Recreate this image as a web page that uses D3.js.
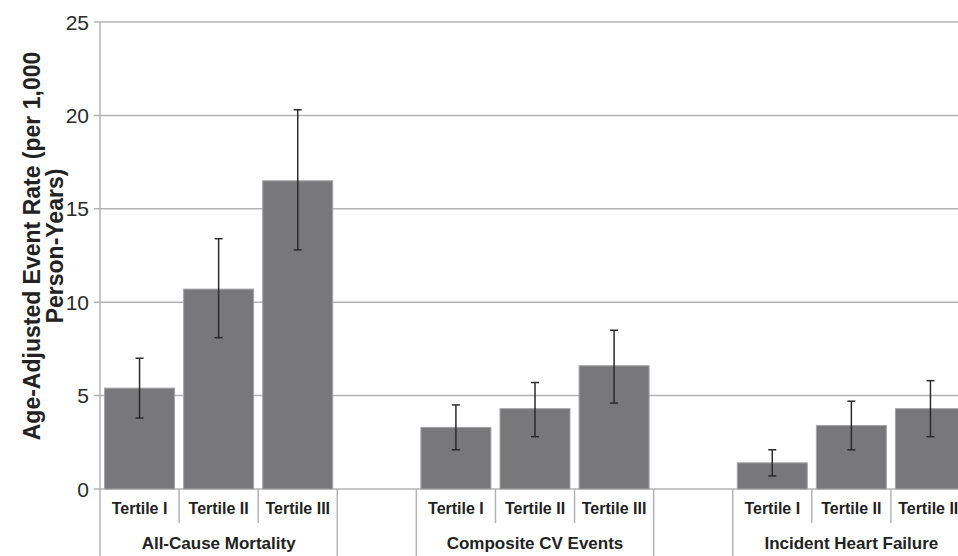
<!DOCTYPE html>
<html>
<head>
<meta charset="utf-8">
<script src="https://cdn.jsdelivr.net/npm/d3@7"></script>
<style>
  body { margin: 0; background: #fff; }
  svg { display: block; font-family: "Liberation Sans", Arial, sans-serif; }
</style>
</head>
<body>
<div id="chart"></div>
<script>
// data
const groups = ['All-Cause Mortality', 'Composite CV Events', 'Incident Heart Failure'];
const tertiles = ['Tertile I', 'Tertile II', 'Tertile III'];
const rates = [
    [5.4, 10.7, 16.5],
    [3.3, 4.3, 6.6],
    [1.4, 3.4, 4.3]
];
const lower = [
    [3.8, 8.1, 12.8],
    [2.1, 2.8, 4.6],
    [0.7, 2.1, 2.8]
];
const upper = [
    [7.0, 13.4, 20.3],
    [4.5, 5.7, 8.5],
    [2.1, 4.7, 5.8]
];
const yTicks = [0, 5, 10, 15, 20, 25];

drawBars();

function drawBars() {

    const width = 958;
    const height = 556;
    const margin = {top: 22, left: 100, bottom: 67};
    const plotRight = 970; // the plot runs past the right edge of the picture

    const svg = d3.select('#chart')
        .append('svg')
            .attr('width', width)
            .attr('height', height);

    // one slot per bar, with an empty slot between groups
    let slots = [];
    groups.forEach((g, gi) => {
        tertiles.forEach((t, ti) => {
            slots.push({key: `${gi}-${ti}`, group: gi, tertile: t,
                value: rates[gi][ti], lo: lower[gi][ti], hi: upper[gi][ti]});
        });
        if (gi < groups.length - 1) slots.push({key: `gap-${gi}`, gap: true});
    });
    const bars = slots.filter(d => !d.gap);

    // scales
    const x = d3.scaleBand()
        .domain(slots.map(d => d.key))
        .range([margin.left, plotRight])
        .paddingInner(0.115)
        .paddingOuter(0.0575);
    const y = d3.scaleLinear()
        .domain([0, 25])
        .range([height - margin.bottom, margin.top]);

    const half = (x.step() - x.bandwidth()) / 2;
    const left = d => x(d.key) - half;
    const y0 = y(0);

    // grid
    svg.append('g')
        .selectAll('line')
        .data(yTicks)
        .join('line')
            .attr('x1', margin.left - 6)
            .attr('x2', width)
            .attr('y1', d => y(d))
            .attr('y2', d => y(d))
            .attr('stroke', '#b4b4b4')
            .attr('stroke-width', 1.5);

    // y axis line
    svg.append('line')
        .attr('x1', margin.left).attr('x2', margin.left)
        .attr('y1', y(25)).attr('y2', height)
        .attr('stroke', '#b4b4b4')
        .attr('stroke-width', 1.5);

    // tick labels
    svg.append('g')
        .selectAll('text')
        .data(yTicks)
        .join('text')
            .attr('x', margin.left - 11)
            .attr('y', d => y(d))
            .attr('dy', '0.36em')
            .attr('text-anchor', 'end')
            .style('font-size', '21px')
            .style('fill', '#2a2a2a')
            .text(d => d);

    // y title
    svg.append('text')
        .attr('transform', `translate(40, 246) rotate(-90)`)
        .attr('text-anchor', 'middle')
        .style('font-size', '23px')
        .style('font-weight', 'bold')
        .style('fill', '#222')
        .call(t => t.append('tspan').attr('x', 0).attr('dy', 0)
            .text('Age-Adjusted Event Rate (per 1,000'))
        .call(t => t.append('tspan').attr('x', 0).attr('dy', '0.98em')
            .text('Person-Years)'));

    // bars
    svg.append('g')
        .selectAll('rect')
        .data(bars)
        .join('rect')
            .attr('x', d => x(d.key))
            .attr('y', d => y(d.value))
            .attr('width', x.bandwidth())
            .attr('height', d => y0 - y(d.value))
            .attr('fill', '#78787a')
            .attr('stroke', '#a4a4a6')
            .attr('stroke-width', 1);

    // error bars
    const err = svg.append('g')
        .attr('stroke', '#2b2b2b')
        .attr('stroke-width', 1.5);
    err.selectAll('line.v')
        .data(bars)
        .join('line')
            .attr('class', 'v')
            .attr('x1', d => x(d.key) + x.bandwidth() / 2)
            .attr('x2', d => x(d.key) + x.bandwidth() / 2)
            .attr('y1', d => y(d.lo))
            .attr('y2', d => y(d.hi));
    ['lo', 'hi'].forEach(k => {
        err.selectAll(`line.${k}`)
            .data(bars)
            .join('line')
                .attr('class', k)
                .attr('x1', d => x(d.key) + x.bandwidth() / 2 - 4)
                .attr('x2', d => x(d.key) + x.bandwidth() / 2 + 4)
                .attr('y1', d => y(d[k]))
                .attr('y2', d => y(d[k]));
    });

    // category separators: short between tertiles, long around groups
    const sep = svg.append('g')
        .attr('stroke', '#b4b4b4')
        .attr('stroke-width', 1.5);
    slots.forEach((d, i) => {
        if (i === 0) return;
        const prevGap = slots[i - 1].gap;
        const long = d.gap || prevGap;
        sep.append('line')
            .attr('x1', left(d)).attr('x2', left(d))
            .attr('y1', y0)
            .attr('y2', long ? height : y0 + 34);
    });

    // tertile labels
    svg.append('g')
        .selectAll('text')
        .data(bars)
        .join('text')
            .attr('x', d => x(d.key) + x.bandwidth() / 2)
            .attr('y', y0 + 25)
            .attr('text-anchor', 'middle')
            .style('font-size', '16px')
            .style('font-weight', 'bold')
            .style('fill', '#222')
            .text(d => d.tertile);

    // group labels
    svg.append('g')
        .selectAll('text')
        .data(groups)
        .join('text')
            .attr('x', (g, gi) => x(`${gi}-1`) + x.bandwidth() / 2)
            .attr('y', y0 + 60)
            .attr('text-anchor', 'middle')
            .style('font-size', '17px')
            .style('font-weight', 'bold')
            .style('fill', '#222')
            .text(d => d);
}
</script>
</body>
</html>
